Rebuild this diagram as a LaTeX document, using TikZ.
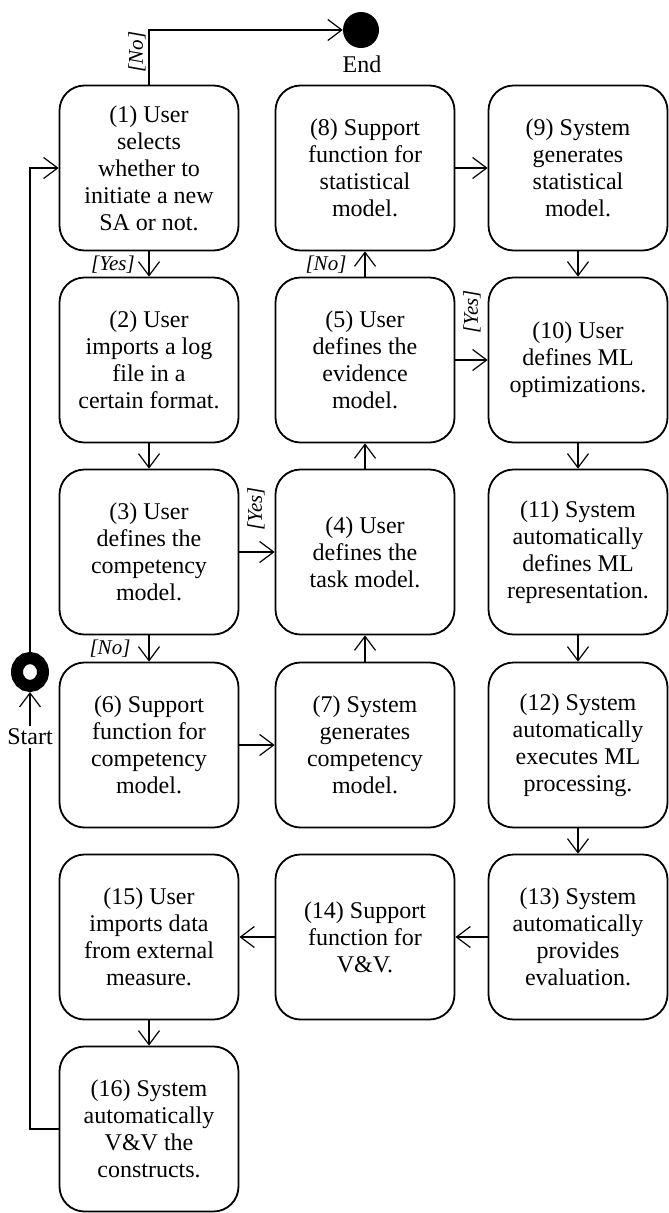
\documentclass[tikz,border=0pt]{standalone}
\usepackage{fontspec}
\setmainfont{Liberation Serif}
\usetikzlibrary{arrows.meta,shapes.geometric}

\begin{document}
\begin{tikzpicture}[x=1pt,y=-1pt,
    act/.style={draw,line width=1.8pt,rounded corners=25pt,minimum width=179pt,minimum height=165pt,
        inner sep=2pt,align=center,font=\fontsize{24}{27}\selectfont},
    flow/.style={-{Straight Barb[length=14pt,width=21pt,line width=1.2pt]},line width=1.2pt},
    guard/.style={inner sep=1pt,font=\fontsize{21}{24}\selectfont\itshape},
    txt/.style={inner sep=3pt,font=\fontsize{24}{27}\selectfont}]
    \useasboundingbox (0,0) rectangle (669,1213);

    % activities, column by column
    \node[act] (a1) at (149,168) {(1) User\\selects\\whether to\\initiate a new\\SA or not.};
    \node[act] (a2) at (149,360) {(2) User\\imports a log\\file in a\\certain format.};
    \node[act] (a3) at (149,552) {(3) User\\defines the\\competency\\model.};
    \node[act] (a6) at (149,745) {(6) Support\\function for\\competency\\model.};
    \node[act] (a15) at (149,937) {(15) User\\imports data\\from external\\measure.};
    \node[act] (a16) at (149,1129) {(16) System\\automatically\\V\&V the\\constructs.};

    \node[act] (a8) at (365,168) {(8) Support\\function for\\statistical\\model.};
    \node[act] (a5) at (365,360) {(5) User\\defines the\\evidence\\model.};
    \node[act] (a4) at (365,552) {(4) User\\defines the\\task model.};
    \node[act] (a7) at (365,745) {(7) System\\generates\\competency\\model.};
    \node[act] (a14) at (365,937) {(14) Support\\function for\\V\&V.};

    \node[act] (a9) at (578,168) {(9) System\\generates\\statistical\\model.};
    \node[act] (a10) at (578,360) {(10) User\\defines ML\\optimizations.};
    \node[act] (a11) at (578,552) {(11) System\\automatically\\defines ML\\representation.};
    \node[act] (a12) at (578,745) {(12) System\\automatically\\executes ML\\processing.};
    \node[act] (a13) at (578,937) {(13) System\\automatically\\provides\\evaluation.};

    % start and end
    \node[ellipse,draw,line width=12pt,minimum width=26pt,minimum height=28pt,inner sep=0pt] (start) at (30,672) {};
    \node[circle,fill,minimum size=36pt,inner sep=0pt] (end) at (361,30) {};
    \node[txt] (endlbl) at (362,64) {End};

    % flows
    \draw[flow] (start.north) |- (a1.west);
    \draw[flow] (a1.north) |- (end.west);
    \draw[flow] (a1) -- (a2);
    \draw[flow] (a2) -- (a3);
    \draw[flow] (a3) -- (a4);
    \draw[flow] (a3) -- (a6);
    \draw[flow] (a6) -- (a7);
    \draw[flow] (a7) -- (a4);
    \draw[flow] (a4) -- (a5);
    \draw[flow] (a5) -- (a8);
    \draw[flow] (a5) -- (a10);
    \draw[flow] (a8) -- (a9);
    \draw[flow] (a9) -- (a10);
    \draw[flow] (a10) -- (a11);
    \draw[flow] (a11) -- (a12);
    \draw[flow] (a12) -- (a13);
    \draw[flow] (a13) -- (a14);
    \draw[flow] (a14) -- (a15);
    \draw[flow] (a15) -- (a16);
    \draw[flow] (a16.west) -| (start.south);
    \node[txt,fill=white] (startlbl) at (30,737) {Start};

    % guards
    \node[guard,rotate=90] (g1no) at (137,52) {[No]};
    \node[guard] (g1yes) at (113,265) {[Yes]};
    \node[guard,rotate=90] (g3yes) at (256,509) {[Yes]};
    \node[guard] (g3no) at (110,649) {[No]};
    \node[guard] (g5no) at (326,265) {[No]};
    \node[guard,rotate=90] (g5yes) at (472,312) {[Yes]};
\end{tikzpicture}
\end{document}
